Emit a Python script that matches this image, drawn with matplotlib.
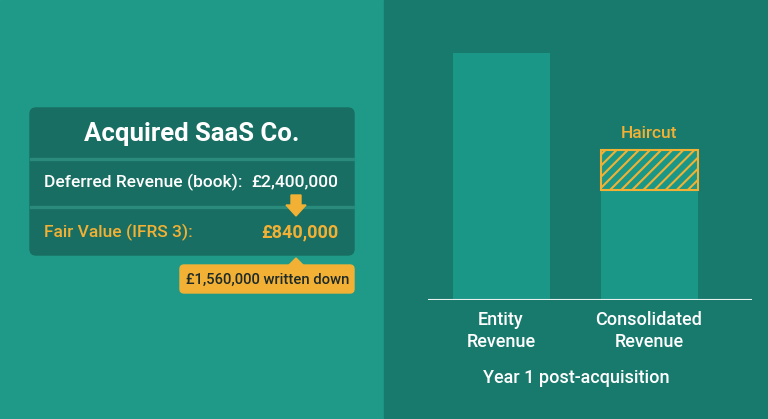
import matplotlib
matplotlib.use("Agg")
import matplotlib.pyplot as plt
from matplotlib.patches import Rectangle, FancyBboxPatch, Polygon

categories = ["Entity\nRevenue", "Consolidated\nRevenue"]
bar_values = [247, 110]
haircut_value = 40
book_value = "£2,400,000"
fair_value = "£840,000"
written_down = "£1,560,000 written down"

LEFT_BG = "#1f9a88"; RIGHT_BG = "#177a6d"; BOX = "#186e62"
BAR = "#1b9787"; ORANGE = "#f2b134"; WHITE = "white"
plt.rcParams['font.family'] = ['Roboto', 'DejaVu Sans']
plt.rcParams['hatch.color'] = ORANGE
plt.rcParams['hatch.linewidth'] = 1.5

fig = plt.figure(figsize=(7.68, 4.19), dpi=100)
bg = fig.add_axes([0, 0, 1, 1]); bg.set_xlim(0, 768); bg.set_ylim(419, 0); bg.axis('off')
bg.add_patch(Rectangle((0, 0), 384, 419, color=LEFT_BG))
bg.add_patch(Rectangle((384, 0), 384, 419, color=RIGHT_BG))

# card
bg.add_patch(FancyBboxPatch((30, 108), 324, 147, boxstyle="round,pad=0,rounding_size=6", color=BOX))
bg.add_patch(Rectangle((30, 158), 324, 1.5, color="#2a8a7c"))
bg.add_patch(Rectangle((30, 206), 324, 1.5, color="#2a8a7c"))
bg.text(192, 134, "Acquired SaaS Co.", color=WHITE, fontsize=18.5, fontweight='bold', ha='center', va='center')
bg.text(44, 182, "Deferred Revenue (book):", color=WHITE, fontsize=12.5, fontweight='medium', va='center')
bg.text(338, 182, book_value, color=WHITE, fontsize=12.5, fontweight='medium', ha='right', va='center')
bg.text(44, 232, "Fair Value (IFRS 3):", color=ORANGE, fontsize=12.5, fontweight='medium', va='center')
bg.text(338, 232, fair_value, color=ORANGE, fontsize=13, fontweight='bold', ha='right', va='center')
bg.add_patch(Polygon([(291, 195), (301, 195), (301, 205), (306, 205), (296, 216), (286, 205), (291, 205)], color=ORANGE))
bg.add_patch(FancyBboxPatch((180, 265), 174, 28, boxstyle="round,pad=0,rounding_size=4", color=ORANGE))
bg.add_patch(Polygon([(289, 265), (303, 265), (296, 258)], color=ORANGE))
bg.text(268, 279.5, written_down, color="#1d2a28", fontsize=10.6, fontweight='medium', ha='center', va='center')

# chart
ax = fig.add_axes([428/768, 1-300/419, 324/768, 260/419])
ax.set_xlim(0, 324); ax.set_ylim(0, 260); ax.axis('off')
xs = [73, 221]
ax.bar(xs, bar_values, width=97, color=BAR)
ax.bar(xs[1], haircut_value, bottom=bar_values[1], width=97, color=BAR, edgecolor=ORANGE, hatch='///', linewidth=1.5)
ax.axhline(0, color="#e8f0ee", lw=1.5)
ax.text(xs[1], bar_values[1] + haircut_value + 9, "Haircut", color=ORANGE, fontsize=12.5, fontweight='medium', ha='center', va='bottom')
for x, c in zip(xs, categories):
    bg.text(428 + x, 331, c, color=WHITE, fontsize=13, fontweight='medium', ha='center', va='center', linespacing=1.25)
bg.text(576, 378, "Year 1 post-acquisition", color=WHITE, fontsize=13, fontweight='medium', ha='center', va='center')
fig.savefig("out.png", dpi=100)
